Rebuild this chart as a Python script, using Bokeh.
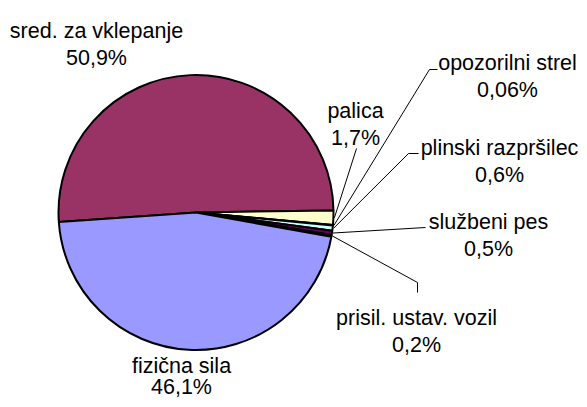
import numpy as np
from bokeh.plotting import figure
from bokeh.models import Range1d, ColumnDataSource
from bokeh.embed import file_html
from bokeh.resources import INLINE
from bokeh.core.properties import value

# ---- data ----
categories = ["sred. za vklepanje", "palica", "opozorilni strel", "plinski razpršilec",
              "službeni pes", "prisil. ustav. vozil", "fizična sila"]
shares = [50.9, 1.7, 0.06, 0.6, 0.5, 0.2, 46.1]
pct_labels = ["50,9%", "1,7%", "0,06%", "0,6%", "0,5%", "0,2%", "46,1%"]
colors = ["#993366", "#FFFFCC", "#FF8080", "#CCFFFF", "#660066", "#0066CC", "#9999FF"]

# ---- layout (screen pixel coordinates; data y = 407 - screen y) ----
SH = 407
cx, cy_s, r = 195.5, 212.0, 137.5
start_deg = 184.0
# label centre x, first-line baseline, line gap (screen)
label_pos = [(96, 30, 27), (355, 110, 27), (507, 62, 27), (499, 147, 27),
             (488, 221, 27), (416, 317, 27), (181, 365, 21)]
# leader line label-side points (screen), None = no leader
leader_pts = [None, [(356, 148)], [(437, 69), (429, 69)], [(418, 153), (408, 153)],
              [(425, 227)], [(417, 292), (417, 282)], None]

vals = np.array(shares, dtype=float)
spans = vals / vals.sum() * 360.0
a_start = start_deg - np.concatenate([[0], np.cumsum(spans)[:-1]])
a_end = a_start - spans
mid = (a_start + a_end) / 2.0

cy = SH - cy_s
src = ColumnDataSource(dict(
    x=[cx] * len(shares), y=[cy] * len(shares),
    start=np.radians(a_end), end=np.radians(a_start), color=colors))

p = figure(width=579, height=399, x_range=Range1d(0, 579), y_range=Range1d(8, 407),
           output_backend="svg", toolbar_location=None, min_border=0)
p.axis.visible = False
p.grid.visible = False
p.outline_line_color = None
p.background_fill_color = "white"
p.border_fill_color = "white"

p.wedge(x="x", y="y", radius=r, start_angle="start", end_angle="end",
        direction="anticlock", fill_color="color", line_color="black",
        line_width=2, source=src)

# leader lines
xs, ys = [], []
for i, pts in enumerate(leader_pts):
    if pts is None:
        continue
    ex = cx + (r + 1) * np.cos(np.radians(mid[i]))
    ey = cy + (r + 1) * np.sin(np.radians(mid[i]))
    xs.append([q[0] for q in pts] + [ex])
    ys.append([SH - q[1] for q in pts] + [ey])
p.multi_line(xs=xs, ys=ys, line_color="black", line_width=1)

# labels
tx, ty, tt = [], [], []
for i, (lx, by, gap) in enumerate(label_pos):
    tx += [lx, lx]
    ty += [SH - by, SH - (by + gap)]
    tt += [categories[i], pct_labels[i]]
p.text(x=tx, y=ty, text=tt, text_align="center", text_baseline="alphabetic",
       text_font=value("Liberation Sans"), text_font_size="21.5px", text_color="black")

open("out.html", "w").write(file_html(p, INLINE))
